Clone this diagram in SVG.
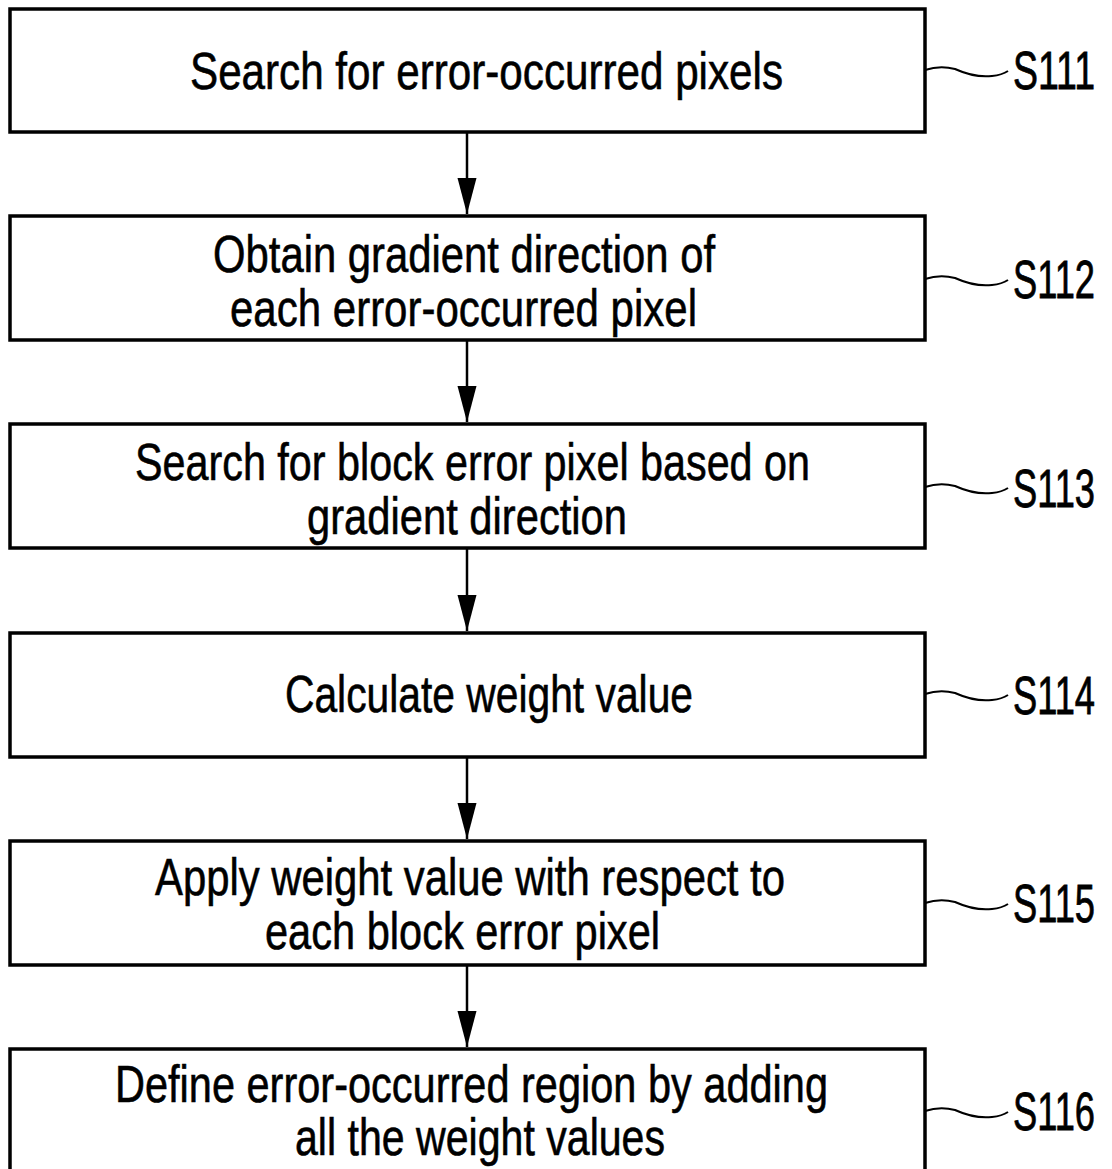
<svg xmlns="http://www.w3.org/2000/svg" width="1112" height="1169" viewBox="0 0 1112 1169">
<style>
.box{fill:#fff;stroke:#000;stroke-width:3.5}
.t{font-family:"Liberation Sans Narrow","Liberation Sans",Arial,sans-serif;font-size:52px;fill:#000;stroke:#000;stroke-width:0.6}
.lbl{font-family:"Liberation Sans Narrow","Liberation Sans",Arial,sans-serif;font-size:54px;fill:#000;stroke:#000;stroke-width:0.8}
.lead{fill:none;stroke:#000;stroke-width:2}
.conn{stroke:#000;stroke-width:2.5}
</style>
<defs>
<marker id="ah" markerUnits="userSpaceOnUse" markerWidth="38" markerHeight="20" refX="36" refY="10" orient="auto" viewBox="0 0 38 20">
<path d="M0,0.5 L36,10 L0,19.5 Z" fill="#000"/>
</marker>
<path id="wave" d="M0,0 Q15,-5 30,-1 Q50,8 67,6 Q77,5 83,1"/>
</defs>
<rect width="1112" height="1169" fill="#fff"/>
<g id="connectors">
<line class="conn" x1="467" y1="133" x2="467" y2="214" marker-end="url(#ah)"/>
<line class="conn" x1="467" y1="341" x2="467" y2="422" marker-end="url(#ah)"/>
<line class="conn" x1="467" y1="549" x2="467" y2="631" marker-end="url(#ah)"/>
<line class="conn" x1="467" y1="758" x2="467" y2="839" marker-end="url(#ah)"/>
<line class="conn" x1="467" y1="966" x2="467" y2="1047" marker-end="url(#ah)"/>
</g>
<g id="S111">
<rect class="box" x="10" y="9" width="915" height="123"/>
<text class="t" x="190" y="89" textLength="593" lengthAdjust="spacingAndGlyphs">Search for error-occurred pixels</text>
<use href="#wave" class="lead" x="925" y="70"/>
<text class="lbl" x="1013" y="89" textLength="82" lengthAdjust="spacingAndGlyphs">S111</text>
</g>
<g id="S112">
<rect class="box" x="10" y="216" width="915" height="124"/>
<text class="t" x="213" y="272" textLength="502" lengthAdjust="spacingAndGlyphs">Obtain gradient direction of</text>
<text class="t" x="230" y="326" textLength="467" lengthAdjust="spacingAndGlyphs">each error-occurred pixel</text>
<use href="#wave" class="lead" x="925" y="279"/>
<text class="lbl" x="1013" y="298" textLength="82" lengthAdjust="spacingAndGlyphs">S112</text>
</g>
<g id="S113">
<rect class="box" x="10" y="424" width="915" height="124"/>
<text class="t" x="135" y="480" textLength="675" lengthAdjust="spacingAndGlyphs">Search for block error pixel based on</text>
<text class="t" x="307" y="534" textLength="320" lengthAdjust="spacingAndGlyphs">gradient direction</text>
<use href="#wave" class="lead" x="925" y="487"/>
<text class="lbl" x="1013" y="507" textLength="82" lengthAdjust="spacingAndGlyphs">S113</text>
</g>
<g id="S114">
<rect class="box" x="10" y="633" width="915" height="124"/>
<text class="t" x="285" y="712" textLength="408" lengthAdjust="spacingAndGlyphs">Calculate weight value</text>
<use href="#wave" class="lead" x="925" y="694"/>
<text class="lbl" x="1013" y="714" textLength="82" lengthAdjust="spacingAndGlyphs">S114</text>
</g>
<g id="S115">
<rect class="box" x="10" y="841" width="915" height="124"/>
<text class="t" x="155" y="895" textLength="630" lengthAdjust="spacingAndGlyphs">Apply weight value with respect to</text>
<text class="t" x="265" y="949" textLength="395" lengthAdjust="spacingAndGlyphs">each block error pixel</text>
<use href="#wave" class="lead" x="925" y="903"/>
<text class="lbl" x="1013" y="922" textLength="82" lengthAdjust="spacingAndGlyphs">S115</text>
</g>
<g id="S116">
<rect class="box" x="10" y="1049" width="915" height="130"/>
<text class="t" x="115" y="1102" textLength="713" lengthAdjust="spacingAndGlyphs">Define error-occurred region by adding</text>
<text class="t" x="295" y="1155" textLength="370" lengthAdjust="spacingAndGlyphs">all the weight values</text>
<use href="#wave" class="lead" x="925" y="1111"/>
<text class="lbl" x="1013" y="1130" textLength="82" lengthAdjust="spacingAndGlyphs">S116</text>
</g>
</svg>
